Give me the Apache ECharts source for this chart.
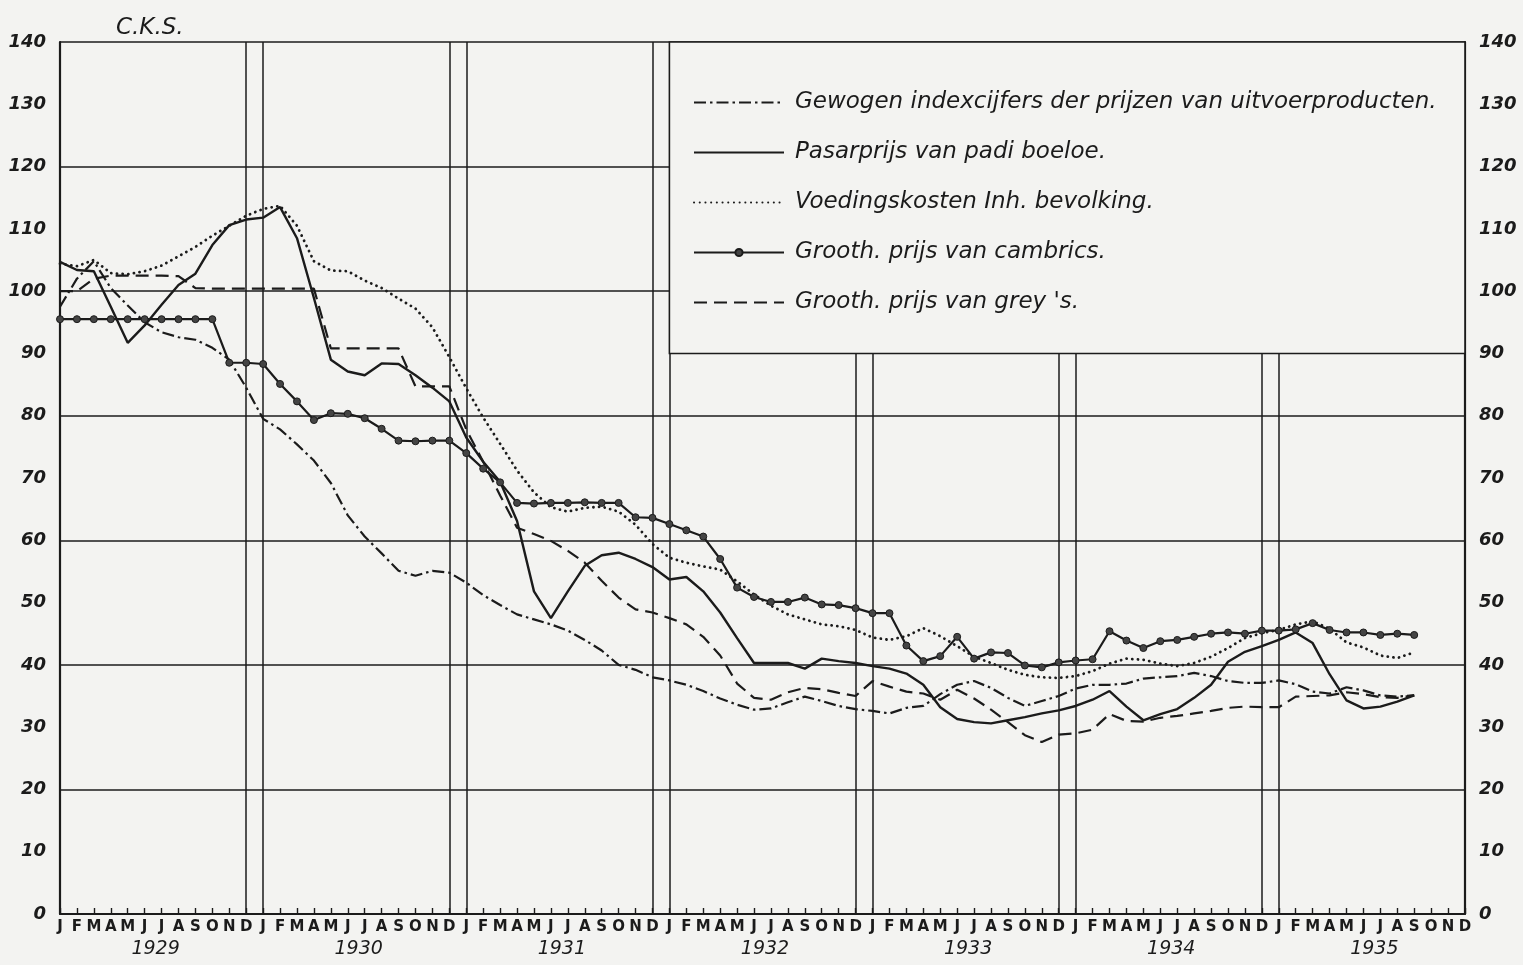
<!DOCTYPE html>
<html>
<head>
<meta charset="utf-8">
<script src="https://cdn.jsdelivr.net/npm/echarts@6/dist/echarts.min.js"></script>
<style>
html,body{margin:0;padding:0;background:#f3f3f1;}
#chart{width:1523px;height:965px;}
</style>
</head>
<body>
<div id="chart"></div>
<script>
// ---- data ----
const YEARS = [1929, 1930, 1931, 1932, 1933, 1934, 1935];
const MONTH_LABELS = ['J','F','M','A','M','J','J','A','S','O','N','D'];
const Y_TICKS = [0,10,20,30,40,50,60,70,80,90,100,110,120,130,140];

const NAME_EXPORT = 'Gewogen indexcijfers der prijzen van uitvoerproducten.';
const NAME_PADI = 'Pasarprijs van padi boeloe.';
const NAME_FOOD = 'Voedingskosten Inh. bevolking.';
const NAME_CAMBRIC = 'Grooth. prijs van cambrics.';
const NAME_GREY = "Grooth. prijs van grey 's.";

// Jan 1929 .. Sep 1935 (81 months)
const exportIndex = [
 97.5,102,104.8,100.5,97.7,95,93.4,92.6,92.2,90.9,89,84.5,
 79.5,77.8,75.4,72.8,69.2,64,60.6,57.9,55.1,54.3,55.1,54.8,
 53.2,51.2,49.6,48.1,47.3,46.5,45.5,44,42.3,40,39.2,38,
 37.5,36.8,35.8,34.6,33.6,32.8,33,34,34.9,34.2,33.4,32.9,
 32.6,32.2,33.1,33.4,35.3,36.8,37.4,36.3,34.7,33.4,34.2,35,
 36.2,36.8,36.8,37,37.8,38,38.2,38.7,38.2,37.4,37.1,37.1,
 37.5,36.9,35.7,35.4,36.4,35.9,35.1,34.9,35.1
];
const padiPrice = [
 104.7,103.4,103.2,97.5,91.7,94.5,97.8,101,102.8,107.4,110.6,111.5,
 111.8,113.5,108.5,98.9,89,87.1,86.5,88.4,88.3,86.5,84.5,82.3,
 76.5,72.6,69.4,63.1,51.8,47.5,51.8,55.9,57.6,58,57,55.7,
 53.7,54.1,51.8,48.4,44.3,40.3,40.3,40.3,39.4,41,40.6,40.3,
 39.8,39.4,38.6,36.8,33.2,31.3,30.8,30.6,31.1,31.6,32.2,32.7,
 33.4,34.4,35.8,33.3,31.1,32.1,32.9,34.7,36.8,40.5,42.1,43,
 44,45.2,43.5,38.5,34.3,33,33.3,34.1,35.1
];
const foodCost = [
 104.4,104,105,102.9,102.7,103.2,104.1,105.6,107.1,108.9,110.5,112.1,
 113.2,113.7,110.5,104.8,103.3,103.2,101.7,100.5,98.8,97.2,94.2,89.4,
 84.4,79.7,75.5,71.2,67.7,65.3,64.6,65.2,65.4,64.6,62.5,59.4,
 57.2,56.4,55.8,55.3,53.4,51.3,49.5,48.1,47.3,46.5,46.2,45.6,
 44.4,44,44.6,45.9,44.6,43,41.3,40.3,39.2,38.4,38,37.9,
 38.2,39,40.2,41,40.8,40.2,39.8,40.3,41.3,42.7,44.3,45.1,
 45.6,46.5,47,45.8,43.6,42.8,41.5,41.1,42
];
const cambricPrice = [
 95.5,95.5,95.5,95.5,95.5,95.5,95.5,95.5,95.5,95.5,88.5,88.5,
 88.3,85.1,82.3,79.3,80.4,80.3,79.6,77.9,76,75.9,76,76,
 74,71.5,69.3,66,65.9,66,66,66.1,66,66,63.7,63.6,
 62.6,61.6,60.6,57,52.4,50.9,50.1,50.1,50.8,49.7,49.6,49.1,
 48.3,48.3,43.1,40.6,41.4,44.5,41,42,41.9,39.9,39.6,40.4,
 40.7,40.9,45.4,43.9,42.7,43.8,44,44.5,45,45.2,45,45.5,
 45.5,45.7,46.7,45.6,45.2,45.2,44.8,45,44.8
];
const greyPrice = [
 100,100,102,102.5,102.5,102.5,102.5,102.4,100.5,100.4,100.4,100.4,
 100.4,100.4,100.4,100.4,90.8,90.8,90.8,90.8,90.8,84.7,84.7,84.7,
 77.8,72.6,67.2,62,61,59.9,58.3,56.4,53.5,50.8,48.9,48.4,
 47.5,46.5,44.5,41.5,37,34.7,34.4,35.6,36.3,36.1,35.5,35,
 37.4,36.5,35.7,35.4,34.4,36,34.6,32.8,30.8,28.7,27.6,28.8,
 29,29.6,32.1,31,30.9,31.5,31.8,32.2,32.6,33.1,33.3,33.2,
 33.2,34.9,35,35.1,35.6,35.3,34.8,34.7,35.1
];

// ---- build ----
const categories = [];
YEARS.forEach(y => MONTH_LABELS.forEach((m, i) => categories.push(y + '-' + String(i + 1).padStart(2, '0'))));

const INK = '#1b1b1b';
const BG = '#f3f3f1';
const labelFont = 'DejaVu Sans';

const chart = echarts.init(document.getElementById('chart'), null, {renderer: 'canvas'});

const baseLine = (name, data, lineStyle, extra) => Object.assign({
  name: name,
  type: 'line',
  data: data,
  xAxisIndex: 0,
  yAxisIndex: 0,
  symbol: 'none',
  smooth: false,
  silent: true,
  animation: false,
  lineStyle: Object.assign({color: INK, width: 2.2}, lineStyle),
  itemStyle: {color: INK}
}, extra || {});

const hiddenSym = {opacity: 0};

const option = {
  backgroundColor: BG,
  animation: false,
  title: {
    text: 'C.K.S.',
    left: 111, top: 12,
    textStyle: {fontFamily: labelFont, fontSize: 23, fontStyle: 'italic', fontWeight: 'normal', color: INK}
  },
  legend: {
    orient: 'vertical',
    left: 688, top: 86,
    itemWidth: 90, itemHeight: 9, itemGap: 27,
    selectedMode: false,
    textStyle: {fontFamily: labelFont, fontSize: 23, fontStyle: 'italic', color: INK, padding: [0, 0, 0, 6]},
    data: [
      {name: NAME_EXPORT, itemStyle: hiddenSym},
      {name: NAME_PADI, itemStyle: hiddenSym},
      {name: NAME_FOOD, itemStyle: hiddenSym},
      {name: NAME_CAMBRIC},
      {name: NAME_GREY, itemStyle: hiddenSym}
    ]
  },
  grid: {left: 60, right: 58, top: 42, bottom: 51, containLabel: false},
  xAxis: [{
    type: 'category',
    data: categories,
    boundaryGap: false,
    axisLine: {show: true, lineStyle: {color: INK, width: 2}},
    axisTick: {show: true, inside: true, length: 6, interval: 0, lineStyle: {color: INK, width: 1.4}},
    axisLabel: {
      interval: 0, margin: 5,
      formatter: function (value, idx) {
        const m = idx % 12;
        let s = '{m|' + MONTH_LABELS[m] + '}';
        if (m === 6) s += '\n{y|' + YEARS[Math.floor(idx / 12)] + '}';
        return s;
      },
      rich: {
        m: {fontFamily: labelFont, fontSize: 15, fontWeight: 'bold', color: INK, lineHeight: 17},
        y: {fontFamily: labelFont, fontSize: 19, fontStyle: 'italic', color: INK, lineHeight: 24, padding: [2, 12, 0, 0]}
      }
    },
    splitLine: {
      show: true,
      interval: function (idx) { return (idx % 12 === 11 && idx < categories.length - 1) || (idx % 12 === 0 && idx > 0); },
      lineStyle: {color: INK, width: 1.5}
    }
  }],
  yAxis: [{
    type: 'value', position: 'left', min: 0, max: 140, interval: 10,
    axisLine: {show: true, lineStyle: {color: INK, width: 2.2}},
    axisTick: {show: false},
    splitLine: {show: false},
    axisLabel: {margin: 14, fontFamily: labelFont, fontSize: 18, fontStyle: 'italic', fontWeight: 'bold', color: INK}
  }, {
    type: 'value', position: 'right', min: 0, max: 140, interval: 10,
    axisLine: {show: true, lineStyle: {color: INK, width: 2.2}},
    axisTick: {show: false},
    splitLine: {show: false},
    axisLabel: {margin: 14, fontFamily: labelFont, fontSize: 18, fontStyle: 'italic', fontWeight: 'bold', color: INK}
  }, {
    type: 'value', position: 'left', min: 0, max: 140, interval: 20,
    axisLine: {show: false}, axisTick: {show: false}, axisLabel: {show: false},
    splitLine: {show: true, lineStyle: {color: INK, width: 1.5}}
  }],
  series: [
    baseLine(NAME_EXPORT, exportIndex, {type: [12, 4, 2.5, 4], width: 2.2}, {
      markArea: {
        silent: true,
        itemStyle: {color: BG, borderColor: INK, borderWidth: 1.6},
        data: [[{coord: ['1932-01', 90]}, {coord: ['1935-12', 140]}]]
      }
    }),
    baseLine(NAME_PADI, padiPrice, {type: 'solid', width: 2.4}),
    baseLine(NAME_FOOD, foodCost, {type: [0.1, 5.6], cap: 'round', width: 2.8}),
    baseLine(NAME_CAMBRIC, cambricPrice, {type: 'solid', width: 2.2}, {
      symbol: 'circle', symbolSize: 7, showSymbol: true,
      itemStyle: {color: '#444', borderColor: INK, borderWidth: 1}
    }),
    baseLine(NAME_GREY, greyPrice, {type: [13, 7], width: 2.2})
  ]
};
chart.setOption(option);
</script>
</body>
</html>
